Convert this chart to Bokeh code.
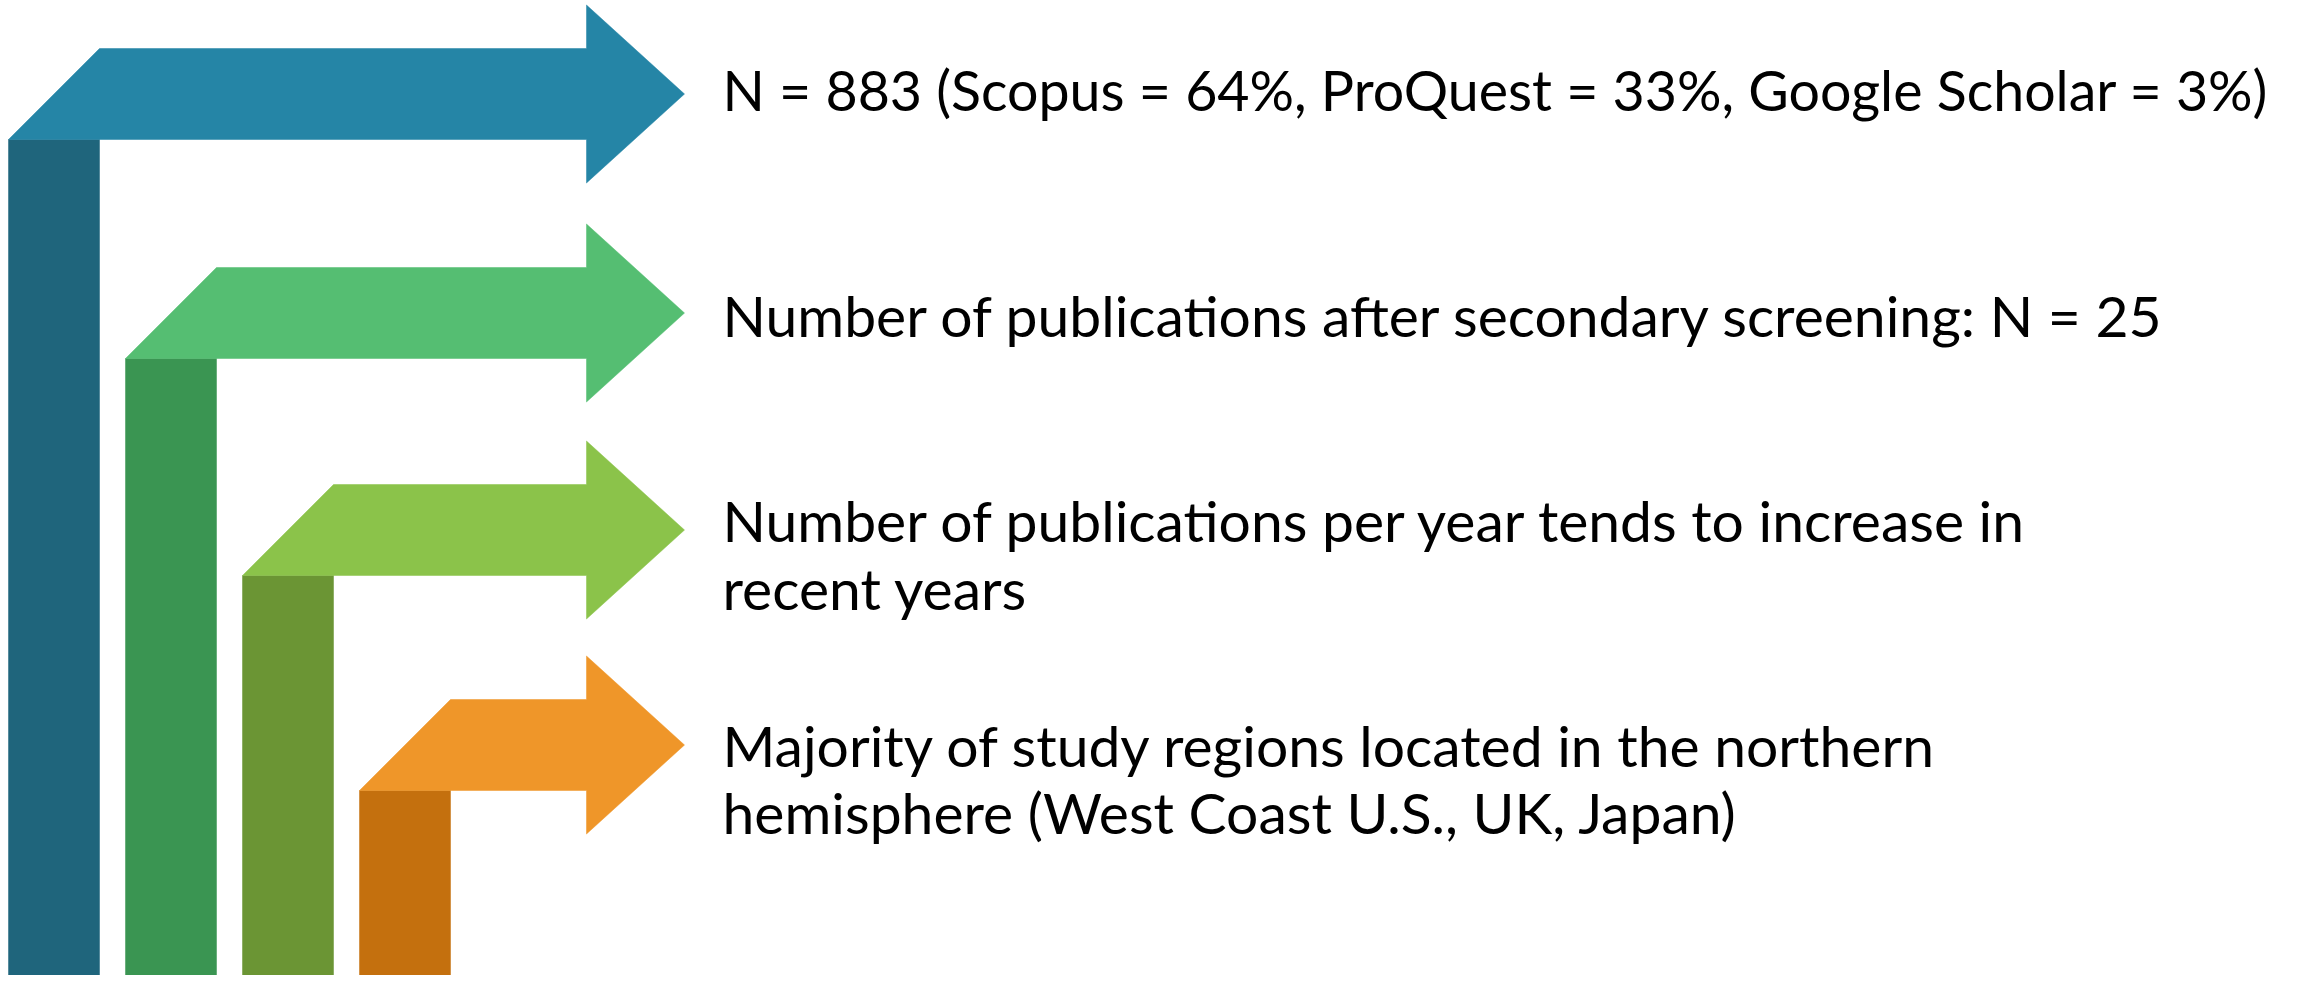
from bokeh.plotting import figure
from bokeh.models import Range1d, ColumnDataSource
from bokeh.core.properties import value
from bokeh.embed import file_html
from bokeh.resources import INLINE

# ---- content ----
steps = ["Search", "Screening", "Trend", "Regions"]
labels = [
    ["N = 883 (Scopus = 64%, ProQuest = 33%, Google Scholar = 3%)"],
    ["Number of publications after secondary screening: N = 25"],
    ["Number of publications per year tends to increase in", "recent years"],
    ["Majority of study regions located in the northern", "hemisphere (West Coast U.S., UK, Japan)"],
]
band_colors = ["#2585A6", "#55BE72", "#8BC34A", "#EF9629"]
bar_colors = ["#1F657C", "#3A9552", "#6B9534", "#C4700E"]

# ---- layout (pixel space of the picture) ----
W, H = 2300, 991
PW, PH = W - 16, H - 16
bar_left0, bar_step, thick = 8, 117, 91
band_tops = [48, 267, 484, 699]
head_base, head_tip, head_half = 586, 684, 89
text_x = 722
baselines = [[106], [331], [536, 604], [761, 828]]
font_sizes = [55.5, 57, 57, 57]
baseline_fix = -17

p = figure(width=PW, height=PH, output_backend="svg", toolbar_location=None,
           x_range=Range1d(0, PW), y_range=Range1d(PH, 0),
           min_border=0, outline_line_color=None)
p.axis.visible = False
p.grid.visible = False
p.background_fill_color = "white"
p.border_fill_color = "white"

xs_band, ys_band, xs_bar, ys_bar = [], [], [], []
for i, _ in enumerate(steps):
    L = bar_left0 + bar_step * i
    T = band_tops[i]
    B = T + thick
    C = (T + B) / 2
    xs_band.append([L, L + thick, head_base, head_base, head_tip, head_base, head_base])
    ys_band.append([B, T, T, C - head_half, C, C + head_half, B])
    xs_bar.append([L, L + thick, L + thick, L])
    ys_bar.append([B, B, H, H])

p.patches(xs_bar, ys_bar, fill_color=bar_colors, line_color=bar_colors, line_width=0.5)
p.patches(xs_band, ys_band, fill_color=band_colors, line_color=band_colors, line_width=0.5)

tx, ty, tt, fs = [], [], [], []
for lines, bls, size in zip(labels, baselines, font_sizes):
    for line, bl in zip(lines, bls):
        tx.append(text_x)
        ty.append(bl + baseline_fix)
        tt.append(line)
        fs.append(f"{size}px")
src = ColumnDataSource(dict(x=tx, y=ty, text=tt, fs=fs))
p.text(x="x", y="y", text="text", source=src, text_font=value("Lato"),
       text_font_size="fs", text_color="black",
       text_align="left", text_baseline="alphabetic")

open("out.html", "w").write(file_html(p, INLINE))
